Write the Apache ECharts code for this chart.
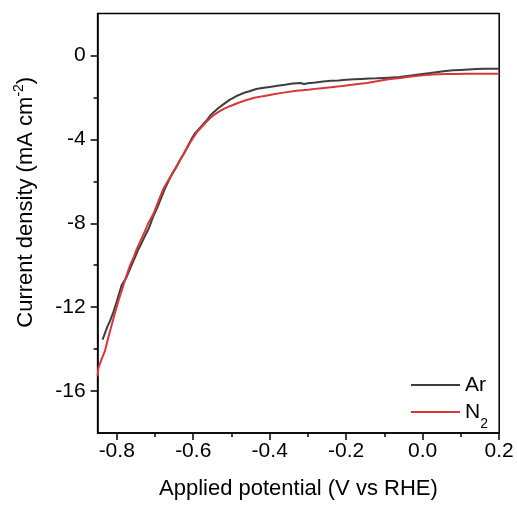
<!DOCTYPE html>
<html>
<head>
<meta charset="utf-8">
<script src="https://cdn.jsdelivr.net/npm/echarts@6/dist/echarts.min.js"></script>
<style>html,body{margin:0;padding:0;background:#fff}#c{width:517px;height:505px}</style>
</head>
<body>
<div id="c"></div>
<script>
// Data
var seriesNames = ['Ar', 'N2'];
var arX = [-0.837,-0.830,-0.825,-0.818,-0.810,-0.800,-0.787,-0.775,-0.765,-0.755,-0.745,-0.735,-0.726,-0.715,-0.705,-0.695,-0.685,-0.675,-0.665,-0.655,-0.645,-0.635,-0.625,-0.615,-0.605,-0.595,-0.585,-0.575,-0.565,-0.555,-0.545,-0.535,-0.525,-0.515,-0.505,-0.495,-0.485,-0.475,-0.465,-0.455,-0.445,-0.435,-0.42,-0.40,-0.38,-0.36,-0.34,-0.32,-0.31,-0.30,-0.28,-0.26,-0.24,-0.22,-0.20,-0.18,-0.16,-0.14,-0.12,-0.10,-0.08,-0.06,-0.04,-0.02,0.00,0.02,0.04,0.06,0.08,0.10,0.12,0.14,0.16,0.18,0.20];
var arY = [-13.55,-13.2,-12.95,-12.68,-12.3,-11.73,-10.95,-10.6,-10.16,-9.75,-9.3,-8.95,-8.6,-8.2,-7.7,-7.3,-6.85,-6.4,-6.0,-5.65,-5.35,-5.0,-4.7,-4.35,-4.0,-3.7,-3.5,-3.3,-3.1,-2.85,-2.68,-2.52,-2.38,-2.25,-2.12,-2.02,-1.92,-1.84,-1.77,-1.72,-1.66,-1.6,-1.55,-1.5,-1.45,-1.40,-1.34,-1.31,-1.36,-1.33,-1.29,-1.24,-1.21,-1.19,-1.16,-1.14,-1.12,-1.10,-1.09,-1.07,-1.05,-1.03,-0.98,-0.93,-0.88,-0.84,-0.79,-0.74,-0.71,-0.69,-0.67,-0.65,-0.64,-0.63,-0.63];
var n2X = [-0.85,-0.848,-0.84,-0.831,-0.822,-0.813,-0.805,-0.796,-0.785,-0.774,-0.765,-0.757,-0.748,-0.739,-0.728,-0.716,-0.704,-0.691,-0.678,-0.66,-0.643,-0.625,-0.608,-0.59,-0.575,-0.565,-0.55,-0.535,-0.52,-0.504,-0.485,-0.46,-0.44,-0.417,-0.39,-0.36,-0.33,-0.30,-0.27,-0.24,-0.21,-0.18,-0.146,-0.12,-0.09,-0.059,-0.03,0.00,0.028,0.06,0.09,0.115,0.15,0.20];
var n2Y = [-15.3,-14.9,-14.5,-14.1,-13.45,-12.84,-12.3,-11.73,-11.1,-10.47,-10.0,-9.68,-9.25,-8.89,-8.45,-7.95,-7.55,-6.95,-6.36,-5.8,-5.26,-4.7,-4.15,-3.65,-3.35,-3.15,-2.9,-2.7,-2.55,-2.42,-2.28,-2.12,-2.02,-1.94,-1.85,-1.76,-1.68,-1.63,-1.57,-1.52,-1.46,-1.39,-1.31,-1.23,-1.14,-1.07,-1.0,-0.95,-0.91,-0.89,-0.88,-0.87,-0.87,-0.87];
var xMajorTicks = [-0.8,-0.6,-0.4,-0.2,0.0,0.2];
var xMinorTicks = [-0.7,-0.5,-0.3,-0.1,0.1];
var yMajorTicks = [-16,-12,-8,-4,0];
var yMinorTicks = [-14,-10,-6,-2];
var xRange = [-0.85, 0.2];
var yRange = [-18, 2];

function pairs(xs, ys){ return xs.map(function(x,i){ return [x, ys[i]]; }); }

var FONT = '"Liberation Sans", Arial, sans-serif';
var L = 97.6, R = 17.8, T = 13.5, B = 69.3;
var lineCol = '#000';
var arCol = '#3d3d3d', n2Col = '#d8353c';

var chart = echarts.init(document.getElementById('c'), null, {renderer:'canvas'});
chart.setOption({
  animation: false,
  backgroundColor: '#fff',
  grid: { left: L, right: R, top: T, bottom: B, show: true, borderColor: lineCol, borderWidth: 1.5, backgroundColor: 'transparent' },
  legend: {
    orient: 'vertical', left: 411, top: 374, padding: 0, itemWidth: 49, itemHeight: 2, itemGap: 5,
    icon: 'rect',
    data: seriesNames,
    formatter: function(n){ return n === 'N2' ? 'N{sub|2}' : n; },
    textStyle: { fontFamily: FONT, fontSize: 21, lineHeight: 22, color: '#000',
      rich: { sub: { fontFamily: FONT, fontSize: 14, verticalAlign: 'bottom', padding: [0, 0, -8, 0], color:'#000' } } }
  },
  xAxis: [{
    type: 'value', min: xRange[0], max: xRange[1], position: 'bottom',
    name: 'Applied potential (V vs RHE)', nameLocation: 'middle', nameGap: 45,
    nameTextStyle: { fontFamily: FONT, fontSize: 22, color: '#000' },
    axisLine: { onZero: false, lineStyle: { color: lineCol, width: 1.5 } },
    axisTick: { customValues: xMajorTicks, length: 7, lineStyle: { color: lineCol, width: 1.5 } },
    axisLabel: { customValues: xMajorTicks, margin: 8, fontFamily: FONT, fontSize: 21, color: '#000',
      formatter: function(v){ return v.toFixed(1); } },
    splitLine: { show: false }
  }, {
    type: 'value', min: xRange[0], max: xRange[1], position: 'bottom',
    axisLine: { show: false, onZero: false },
    axisTick: { customValues: xMinorTicks, length: 4, lineStyle: { color: lineCol, width: 1.5 } },
    axisLabel: { show: false }, splitLine: { show: false }
  }],
  yAxis: [{
    type: 'value', min: yRange[0], max: yRange[1], position: 'left',
    name: 'Current density (mA cm{sup|-2})', nameLocation: 'middle', nameGap: 59, nameRotate: 90,
    nameTextStyle: { fontFamily: FONT, fontSize: 22, lineHeight: 26, color: '#000', padding: [0, 0, 0, 42],
      rich: { sup: { fontFamily: FONT, fontSize: 14, lineHeight: 26, verticalAlign: 'top', color: '#000' } } },
    axisLine: { onZero: false, lineStyle: { color: lineCol, width: 1.5 } },
    axisTick: { customValues: yMajorTicks, length: 7, lineStyle: { color: lineCol, width: 1.5 } },
    axisLabel: { customValues: yMajorTicks, margin: 12, fontFamily: FONT, fontSize: 21, color: '#000' },
    splitLine: { show: false }
  }, {
    type: 'value', min: yRange[0], max: yRange[1], position: 'left',
    axisLine: { show: false, onZero: false },
    axisTick: { customValues: yMinorTicks, length: 4, lineStyle: { color: lineCol, width: 1.5 } },
    axisLabel: { show: false }, splitLine: { show: false }
  }],
  series: [{
    name: 'Ar', type: 'line', data: pairs(arX, arY), showSymbol: false, symbol: 'none',
    lineStyle: { color: arCol, width: 2 }, itemStyle: { color: arCol }, z: 2
  }, {
    name: 'N2', type: 'line', data: pairs(n2X, n2Y), showSymbol: false, symbol: 'none',
    lineStyle: { color: n2Col, width: 2 }, itemStyle: { color: n2Col }, z: 3
  }]
});
</script>
</body>
</html>
